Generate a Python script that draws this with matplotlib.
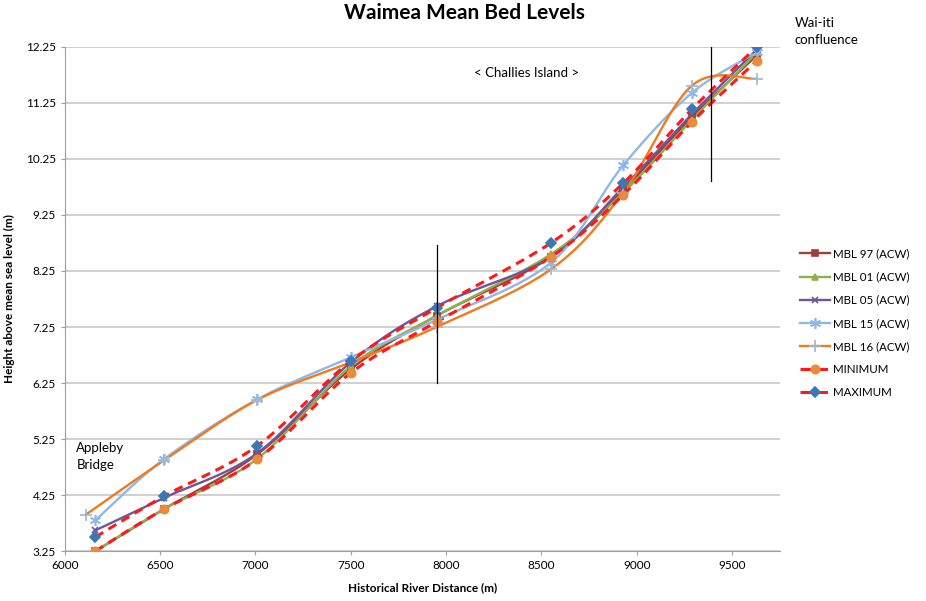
import numpy as np
import matplotlib.pyplot as plt

plt.rcParams['font.family'] = ['Lato', 'DejaVu Sans']

# chainage of surveyed cross sections (m)
dist = [6160, 6520, 7010, 7500, 7950, 8550, 8930, 9290, 9630]
dist16 = [6110, 6520, 7010, 7500, 7950, 8550, 8930, 9290, 9630]

mbl97 = [3.25, 4.00, 4.98, 6.50, 7.45, 8.50, 9.70, 11.00, 12.10]
mbl01 = [3.25, 4.00, 4.90, 6.55, 7.45, 8.55, 9.65, 10.95, 12.15]
mbl05 = [3.62, 4.20, 5.00, 6.62, 7.62, 8.50, 9.75, 11.05, 12.20]
mbl15 = [3.80, 4.89, 5.96, 6.71, 7.38, 8.40, 10.14, 11.43, 12.15]
mbl16 = [3.90, 4.87, 5.95, 6.62, 7.25, 8.28, 9.65, 11.56, 11.68]
minimum = [3.25, 4.00, 4.89, 6.43, 7.34, 8.50, 9.61, 10.91, 12.00]
maximum = [3.50, 4.23, 5.13, 6.64, 7.59, 8.75, 9.82, 11.14, 12.25]

yticks = [3.25, 4.25, 5.25, 6.25, 7.25, 8.25, 9.25, 10.25, 11.25, 12.25]
xticks = [6000, 6500, 7000, 7500, 8000, 8500, 9000, 9500]


def smooth(x, y, n=30):
    # excel style smoothed line (bezier through the points)
    p = np.column_stack([x, y]).astype(float)
    p = np.vstack([p[0], p, p[-1]])
    out = []
    t = np.linspace(0, 1, n)[:, None]
    for i in range(1, len(p) - 2):
        a, d = p[i], p[i + 1]
        b = a + (p[i + 1] - p[i - 1]) / 6
        c = d - (p[i + 2] - p[i]) / 6
        seg = (1 - t)**3 * a + 3 * (1 - t)**2 * t * b + 3 * (1 - t) * t**2 * c + t**3 * d
        out.append(seg)
    s = np.vstack(out)
    return s[:, 0], s[:, 1]


fig = plt.figure(figsize=(9.26, 6.01), dpi=100)
ax = fig.add_axes([0.070, 0.083, 0.772, 0.839])

series = [
    ('MBL 97 (ACW)', dist, mbl97, '#9e3f3b', '-', 's', '#9e3f3b', 4.5),
    ('MBL 01 (ACW)', dist, mbl01, '#8db04a', '-', '^', '#8db04a', 5),
    ('MBL 05 (ACW)', dist, mbl05, '#6f559a', '-', 'x', '#6f559a', 5),
    ('MBL 15 (ACW)', dist, mbl15, '#8fb8e6', '-', (6, 2, 0), '#8fb8e6', 8),
    ('MBL 16 (ACW)', dist16, mbl16, '#f07a1c', '-', '+', '#9fb8d0', 8),
    ('MINIMUM', dist, minimum, '#ff1a1a', '--', 'o', '#eb8a3a', 6),
    ('MAXIMUM', dist, maximum, '#ff1a1a', '--', 'D', '#3d77b4', 5),
]

for name, xs, ys, col, ls, mk, mcol, ms in series:
    sx, sy = smooth(xs, ys)
    lw = 2.2 if ls == '--' else 1.7
    ax.plot(sx, sy, color=col, ls=ls, lw=lw, dashes=(3, 2) if ls == '--' else (None, None), zorder=3)
    ax.plot(xs, ys, ls='none', marker=mk, ms=ms, color=mcol, mec=mcol, mew=1.2, zorder=4)
    ax.plot([], [], color=col, ls=ls, lw=lw, marker=mk, ms=ms, mfc=mcol, mec=mcol, mew=1.2, label=name)

# reach markers
ax.plot([7950, 7950], [6.25, 8.72], color='black', lw=0.9, zorder=5)
ax.plot([9390, 9390], [9.85, 12.45], color='black', lw=0.9, zorder=5)

ax.text(6060, 4.93, 'Appleby\nBridge', fontsize=9.5, ha='left', va='center', linespacing=1.5)
ax.text(8420, 11.79, '< Challies Island >', fontsize=9.5, ha='center', va='center')
fig.text(0.858, 0.948, 'Wai-iti\nconfluence', fontsize=9.5, ha='left', va='center', linespacing=1.5)

ax.set_xlim(6000, 9750)
ax.set_ylim(3.25, 12.25)
ax.set_yticks(yticks)
ax.set_yticklabels([f'{v:.2f}' for v in yticks])
ax.set_xticks(xticks)
ax.tick_params(labelsize=8.5, length=3, color='#a0a0a0')
ax.grid(axis='y', color='#c8c8c8', lw=1.2)
ax.set_axisbelow(True)
for side in ['top', 'right']:
    ax.spines[side].set_visible(False)
for side in ['left', 'bottom']:
    ax.spines[side].set_color('#a0a0a0')

ax.set_xlabel('Historical River Distance (m)', fontsize=8.5, fontweight='bold', labelpad=8)
ax.set_ylabel('Height above mean sea level (m)', fontsize=8.5, fontweight='bold', labelpad=8)
fig.suptitle('Waimea Mean Bed Levels', x=0.502, y=0.995, fontsize=15, fontweight='bold')

fig.legend(loc='upper left', bbox_to_anchor=(0.856, 0.598), frameon=False,
           fontsize=8.3, labelspacing=1.05, handlelength=2.6, handletextpad=0.3,
           borderaxespad=0.2)

fig.savefig('out.png', dpi=100)
